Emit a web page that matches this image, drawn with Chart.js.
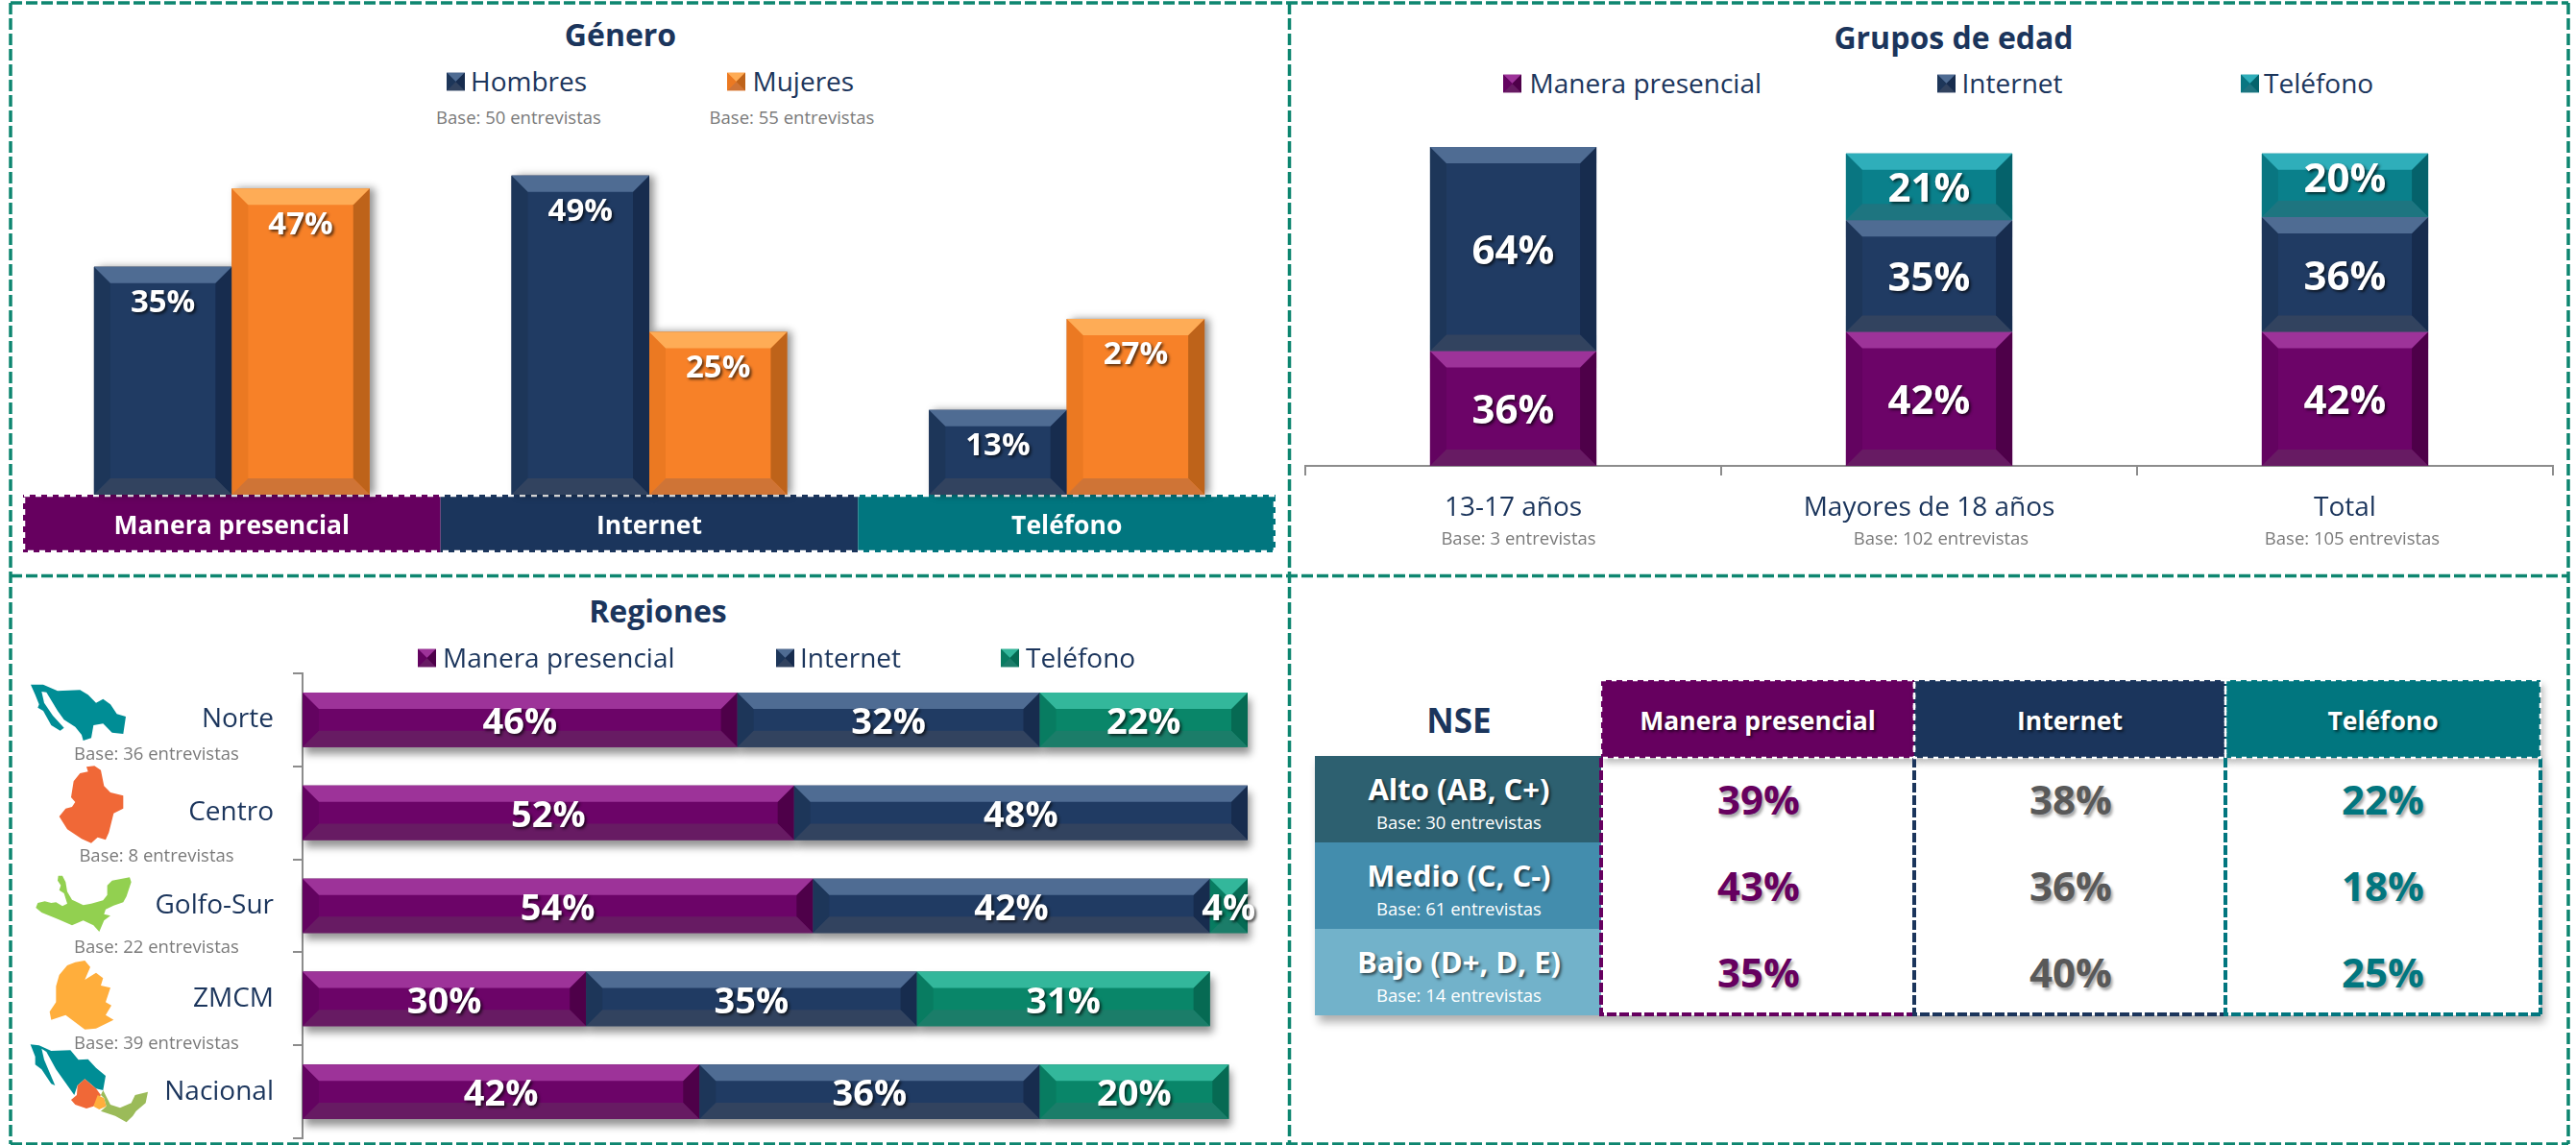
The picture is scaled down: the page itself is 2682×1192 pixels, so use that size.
<!DOCTYPE html>
<html lang="es">
<head>
<meta charset="utf-8">
<title>Encuesta</title>
<script src="https://cdn.jsdelivr.net/npm/chart.js@4"></script>
<style>
html,body{margin:0;padding:0;background:#fff;overflow:hidden}
#page{position:relative;width:2682px;height:1192px;font-family:"Open Sans",sans-serif;color:#1B355C}
canvas{position:absolute}
.t{position:absolute;white-space:nowrap;transform:translate(-50%,-50%);line-height:1}
.l{position:absolute;white-space:nowrap;transform:translateY(-50%);line-height:1}
.title{font-weight:700;font-size:32px}
.base{color:#7a7a7a;font-size:18.5px}
.legend{font-size:28px;color:#1B355C}
.sw{position:absolute;width:19px;height:19px;transform:translateY(-50%)}
.box{position:absolute;box-sizing:border-box}
#frame,#maps{position:absolute;left:0;top:0}
</style>
</head>
<body>
<div id="page">
<svg id="frame" width="2682" height="1192"></svg>
<svg id="maps" width="2682" height="1192"></svg>
<canvas id="genero"></canvas>
<canvas id="edad"></canvas>
<canvas id="regiones"></canvas>
</div>
<script>
// ---- data ----
const canales = ['Manera presencial', 'Internet', 'Teléfono'];

const generoSeries = ['Hombres', 'Mujeres'];
const generoBases = ['Base: 50 entrevistas', 'Base: 55 entrevistas'];
const generoHombres = [35, 49, 13];
const generoMujeres = [47, 25, 27];

const edadCats = ['13-17 años', 'Mayores de 18 años', 'Total'];
const edadBases = ['Base: 3 entrevistas', 'Base: 102 entrevistas', 'Base: 105 entrevistas'];
const edadPresencial = [36, 42, 42];
const edadInternet = [64, 35, 36];
const edadTelefono = [null, 21, 20];

const regionCats = ['Norte', 'Centro', 'Golfo-Sur', 'ZMCM', 'Nacional'];
const regionBases = ['Base: 36 entrevistas', 'Base: 8 entrevistas', 'Base: 22 entrevistas', 'Base: 39 entrevistas'];
const regionPresencial = [46, 52, 54, 30, 42];
const regionInternet = [32, 48, 42, 35, 36];
const regionTelefono = [22, null, 4, 31, 20];

const nseCats = ['Alto (AB, C+)', 'Medio (C, C-)', 'Bajo (D+, D, E)'];
const nseBases = ['Base: 30 entrevistas', 'Base: 61 entrevistas', 'Base: 14 entrevistas'];
const nsePresencial = ['39%', '43%', '35%'];
const nseInternet = ['38%', '36%', '40%'];
const nseTelefono = ['22%', '18%', '25%'];

// ---- palettes: centre, top, left, right, bottom ----
const NAVY   = {c:'#203B63', t:'#4F6C93', l:'#1D3659', r:'#172C4E', b:'#32435F'};
const ORANGE = {c:'#F78128', t:'#FEAC56', l:'#EB7922', r:'#BE631A', b:'#CF7436'};
const PURPLE = {c:'#6C0468', t:'#9D3399', l:'#630360', r:'#4E0049', b:'#671B63'};
const CYAN   = {c:'#0A808B', t:'#2FAEBA', l:'#097681', r:'#05626B', b:'#1E7580'};
const GREEN  = {c:'#098669', t:'#33B79B', l:'#087C61', r:'#066A53', b:'#1B7D69'};

const page = document.getElementById('page');
const INK = '#1B355C';
const SANS = '"Open Sans", sans-serif';

function addText(cls, x, y, text, css) {
  const d = document.createElement('div');
  d.className = cls; d.textContent = text;
  d.style.left = x + 'px'; d.style.top = y + 'px';
  if (css) Object.assign(d.style, css);
  page.appendChild(d);
  return d;
}
function addSwatch(x, y, p) {
  const s = document.createElementNS('http://www.w3.org/2000/svg', 'svg');
  s.setAttribute('viewBox', '0 0 20 20');
  s.setAttribute('class', 'sw');
  s.style.left = x + 'px'; s.style.top = y + 'px';
  s.innerHTML = `<rect width="20" height="20" fill="${p.c}"/>`
    + `<polygon points="0,0 20,0 10,10" fill="${p.t}"/>`
    + `<polygon points="0,20 20,20 10,10" fill="${p.b}"/>`
    + `<polygon points="0,0 10,10 0,20" fill="${p.l}"/>`
    + `<polygon points="20,0 10,10 20,20" fill="${p.r}"/>`;
  page.appendChild(s);
}

// ---- plugin: bevelled faces, drop shadow, value labels ----
const BEVEL = 17;
function rectOf(el, horizontal) {
  const p = el.getProps(['x', 'y', 'base', 'width', 'height'], true);
  return horizontal
    ? {x0: Math.min(p.base, p.x), x1: Math.max(p.base, p.x), y0: p.y - p.height / 2, y1: p.y + p.height / 2}
    : {x0: p.x - p.width / 2, x1: p.x + p.width / 2, y0: Math.min(p.base, p.y), y1: Math.max(p.base, p.y)};
}
function poly(ctx, color, pts) {
  ctx.fillStyle = color;
  ctx.beginPath();
  pts.forEach((q, i) => i ? ctx.lineTo(q[0], q[1]) : ctx.moveTo(q[0], q[1]));
  ctx.closePath();
  ctx.fill();
}
const bevelPlugin = {
  id: 'bevel',
  beforeDatasetsDraw(chart, args, opts) {
    if (!opts.shadow) return;
    const ctx = chart.ctx;
    const horizontal = chart.options.indexAxis === 'y';
    ctx.save();
    ctx.shadowColor = 'rgba(0,0,0,.42)';
    ctx.shadowBlur = opts.shadow.blur;
    ctx.shadowOffsetX = opts.shadow.x;
    ctx.shadowOffsetY = opts.shadow.y;
    ctx.fillStyle = '#888';
    chart.data.datasets.forEach((ds, i) => {
      chart.getDatasetMeta(i).data.forEach((el, j) => {
        if (ds.data[j] == null) return;
        const r = rectOf(el, horizontal);
        ctx.fillRect(r.x0, r.y0, r.x1 - r.x0, r.y1 - r.y0);
      });
    });
    ctx.restore();
  },
  afterDatasetsDraw(chart, args, opts) {
    const ctx = chart.ctx;
    const horizontal = chart.options.indexAxis === 'y';
    chart.data.datasets.forEach((ds, i) => {
      const p = ds.palette;
      chart.getDatasetMeta(i).data.forEach((el, j) => {
        if (ds.data[j] == null) return;
        const r = rectOf(el, horizontal);
        const b = Math.min(BEVEL, (r.x1 - r.x0) / 2, (r.y1 - r.y0) / 2);
        const tl = [r.x0, r.y0], tr = [r.x1, r.y0], br = [r.x1, r.y1], bl = [r.x0, r.y1];
        const itl = [r.x0 + b, r.y0 + b], itr = [r.x1 - b, r.y0 + b], ibr = [r.x1 - b, r.y1 - b], ibl = [r.x0 + b, r.y1 - b];
        poly(ctx, p.l, [tl, itl, ibl, bl]);
        poly(ctx, p.r, [tr, itr, ibr, br]);
        poly(ctx, p.t, [tl, tr, itr, itl]);
        poly(ctx, p.b, [bl, br, ibr, ibl]);
      });
    });
    // value labels
    ctx.save();
    ctx.font = `700 ${opts.labelSize}px ${SANS}`;
    ctx.textAlign = 'center';
    ctx.textBaseline = 'middle';
    ctx.fillStyle = '#fff';
    ctx.shadowColor = 'rgba(0,0,0,.65)';
    ctx.shadowBlur = 3;
    ctx.shadowOffsetX = 2;
    ctx.shadowOffsetY = 2;
    chart.data.datasets.forEach((ds, i) => {
      chart.getDatasetMeta(i).data.forEach((el, j) => {
        if (ds.data[j] == null) return;
        const r = rectOf(el, horizontal);
        let x = (r.x0 + r.x1) / 2, y = (r.y0 + r.y1) / 2;
        if (opts.labelFromTop != null) y = r.y0 + opts.labelFromTop;
        if (opts.labelDy) y += opts.labelDy;
        const raised = opts.raise && opts.raise[i] && opts.raise[i][j];
        if (raised) y -= raised;
        ctx.fillText(ds.data[j] + '%', x, y);
      });
    });
    ctx.restore();
  }
};

// ---- plugin: coloured strip behind the category ticks of Género ----
const stripColors = ['#66005F', '#1B355C', '#01767F'];
const stripPlugin = {
  id: 'strip',
  beforeDraw(chart, args, opts) {
    if (!opts.on) return;
    const ctx = chart.ctx, xs = chart.scales.x, a = chart.chartArea;
    const band = (a.right - a.left) / xs.ticks.length;
    const top = a.bottom, h = opts.height;
    ctx.save();
    xs.ticks.forEach((t, i) => {
      ctx.fillStyle = stripColors[i];
      ctx.fillRect(a.left + band * i, top, band, h);
    });
    ctx.strokeStyle = '#fff';
    ctx.lineWidth = 2.5;
    ctx.setLineDash([6, 6]);
    ctx.strokeRect(a.left + 1, top + 1, a.right - a.left - 2, h - 2);
    ctx.restore();
  }
};

Chart.register(bevelPlugin, stripPlugin);
Chart.defaults.font.family = SANS;
Chart.defaults.animation = false;
Chart.defaults.responsive = false;
Chart.defaults.maintainAspectRatio = false;

function place(id, x, y, w, h) {
  const c = document.getElementById(id);
  c.width = w; c.height = h;
  c.style.left = x + 'px'; c.style.top = y + 'px';
  c.style.width = w + 'px'; c.style.height = h + 'px';
  return c;
}
function dataset(label, data, p) {
  return {label, data, palette: p, backgroundColor: p.c, borderWidth: 0};
}

// ---- Género ----
new Chart(place('genero', 24, 142, 1304, 433), {
  type: 'bar',
  data: {
    labels: canales,
    datasets: [dataset(generoSeries[0], generoHombres, NAVY), dataset(generoSeries[1], generoMujeres, ORANGE)]
  },
  options: {
    layout: {padding: 0},
    datasets: {bar: {categoryPercentage: 0.66, barPercentage: 1}},
    plugins: {
      legend: {display: false}, tooltip: {enabled: false}, title: {display: false},
      bevel: {labelSize: 33, labelFromTop: 38, shadow: {blur: 8, x: 5, y: 0}},
      strip: {on: true, height: 60}
    },
    scales: {
      x: {
        afterFit(s) { s.height = 60; },
        border: {display: false},
        grid: {display: false, drawTicks: false},
        ticks: {color: '#fff', padding: 18, maxRotation: 0, font: {size: 26.5, weight: 700}}
      },
      y: {display: false, min: 0, max: 55}
    }
  }
});

// ---- Grupos de edad ----
new Chart(place('edad', 1357, 153, 1303, 394), {
  type: 'bar',
  data: {
    labels: edadCats,
    datasets: [dataset(canales[0], edadPresencial, PURPLE), dataset(canales[1], edadInternet, NAVY), dataset(canales[2], edadTelefono, CYAN)]
  },
  options: {
    layout: {padding: {left: 2, right: 2}},
    datasets: {bar: {categoryPercentage: 0.4, barPercentage: 1}},
    plugins: {
      legend: {display: false}, tooltip: {enabled: false}, title: {display: false},
      bevel: {labelSize: 42, labelDy: 4, raise: {2: {2: 9}}},
      strip: {on: false}
    },
    scales: {
      x: {
        stacked: true,
        afterFit(s) { s.height = 62; },
        border: {display: true, color: '#8c8c8c', width: 2},
        grid: {offset: true, drawOnChartArea: false, drawTicks: true, tickLength: 10, color: '#8c8c8c', lineWidth: 2},
        ticks: {color: INK, padding: 17, maxRotation: 0, font: {size: 28}}
      },
      y: {display: false, stacked: true, min: 0, max: 100}
    }
  }
});

// ---- Regiones ----
new Chart(place('regiones', 20, 699, 1296, 488), {
  type: 'bar',
  data: {
    labels: regionCats,
    datasets: [dataset(canales[0], regionPresencial, PURPLE), dataset(canales[1], regionInternet, NAVY), dataset(canales[2], regionTelefono, GREEN)]
  },
  options: {
    indexAxis: 'y',
    layout: {padding: {top: 2, bottom: 2, right: 17}},
    datasets: {bar: {categoryPercentage: 0.586, barPercentage: 1}},
    plugins: {
      legend: {display: false}, tooltip: {enabled: false}, title: {display: false},
      bevel: {labelSize: 38, labelDy: 4, shadow: {blur: 8, x: 3, y: 7}},
      strip: {on: false}
    },
    scales: {
      x: {display: false, stacked: true, min: 0, max: 100},
      y: {
        stacked: true,
        afterFit(s) { s.width = 295; s.paddingTop = 0; s.paddingBottom = 0; },
        border: {display: true, color: '#8c8c8c', width: 2},
        grid: {offset: true, drawOnChartArea: false, drawTicks: true, tickLength: 10, color: '#8c8c8c', lineWidth: 2},
        ticks: {color: INK, padding: 20, font: {size: 28}}
      }
    }
  }
});

// ---- titles, legends and base notes ----
addText('t title', 646, 36, 'Género');
addSwatch(464.5, 85, NAVY);
addText('l legend', 490, 84, generoSeries[0]);
addSwatch(757, 85, ORANGE);
addText('l legend', 783.5, 84, generoSeries[1]);
addText('t base', 540, 122, generoBases[0]);
addText('t base', 824.5, 122, generoBases[1]);

addText('t title', 2034, 39, 'Grupos de edad');
[[1565, 1592.5], [2017, 2042.5], [2332.5, 2357]].forEach((p, i) => {
  addSwatch(p[0], 87, [PURPLE, NAVY, CYAN][i]);
  addText('l legend', p[1], 86, canales[i]);
});
[1581, 2021, 2449].forEach((x, i) => addText('t base', x, 560, edadBases[i]));

addText('t title', 685, 636, 'Regiones');
[[435, 461], [807.5, 833], [1042, 1068]].forEach((p, i) => {
  addSwatch(p[0], 685, [PURPLE, NAVY, GREEN][i]);
  addText('l legend', p[1], 684, canales[i]);
});
[[163, 784], [163, 890], [163, 985], [163, 1085]].forEach((p, i) => addText('t base', p[0], p[1], regionBases[i]));

// ---- NSE table ----
const colX = [1667, 1993, 2317, 2645];
const rowY = [787, 877, 967, 1057];
const rowColors = ['#2D6070', '#438DAD', '#72B2CA'];
const headColors = ['#66005F', '#1B355C', '#01767F'];
const cellColors = ['#66005F', '#595959', '#01767F'];
const dashColors = ['#66005F', '#1B355C', '#01767F'];
const nseCols = [nsePresencial, nseInternet, nseTelefono];

addText('t', 1519, 749, 'NSE', {fontWeight: 700, fontSize: '35px'});

const shadowBox = document.createElement('div');
shadowBox.className = 'box';
Object.assign(shadowBox.style, {left: '1369px', top: '787px', width: '1276px', height: '270px', boxShadow: '4px 7px 9px rgba(0,0,0,.32)', background: '#fff'});
page.appendChild(shadowBox);

nseCats.forEach((cat, i) => {
  const r = document.createElement('div');
  r.className = 'box';
  Object.assign(r.style, {left: '1369px', top: rowY[i] + 'px', width: '298px', height: (rowY[i + 1] - rowY[i]) + 'px', background: rowColors[i]});
  page.appendChild(r);
  addText('t', 1519, rowY[i] + 34, cat, {color: '#fff', fontWeight: 700, fontSize: '31px', textShadow: '2px 2px 3px rgba(0,0,0,.6)'});
  addText('t base', 1519, rowY[i] + 69, nseBases[i], {color: '#fff'});
});

canales.forEach((name, c) => {
  const h = document.createElement('div');
  h.className = 'box';
  Object.assign(h.style, {left: colX[c] + 'px', top: '708px', width: (colX[c + 1] - colX[c]) + 'px', height: '81px', background: headColors[c], boxShadow: '3px 5px 7px rgba(0,0,0,.28)'});
  page.appendChild(h);
});
canales.forEach((name, c) => {
  const cell = document.createElementNS('http://www.w3.org/2000/svg', 'svg');
  cell.setAttribute('width', colX[c + 1] - colX[c] + 4);
  cell.setAttribute('height', 362);
  cell.style.position = 'absolute';
  cell.style.left = colX[c] - 2 + 'px';
  cell.style.top = '706px';
  const w = colX[c + 1] - colX[c];
  cell.innerHTML =
    `<path d="M2,83 V350 H${w + 2}" fill="none" stroke="${dashColors[c]}" stroke-width="4" stroke-dasharray="10 3"/>`
    + (c === 2 ? `<path d="M${w + 2},83 V350" fill="none" stroke="${dashColors[c]}" stroke-width="4" stroke-dasharray="10 3"/>` : '')
    + `<rect x="2" y="2" width="${w}" height="81" fill="none" stroke="#fff" stroke-width="2.5" stroke-dasharray="5 6"/>`;
  page.appendChild(cell);
  addText('t', (colX[c] + colX[c + 1]) / 2, 750, name, {color: '#fff', fontWeight: 700, fontSize: '26.5px', textShadow: '2px 2px 3px rgba(0,0,0,.55)'});
  nseCols[c].forEach((v, r) => {
    addText('t', [1831, 2156, 2481][c], 832 + 90 * r, v, {color: cellColors[c], fontWeight: 700, fontSize: '42px', textShadow: '2px 3px 3px rgba(0,0,0,.35)'});
  });
});

// ---- panel frames ----
document.getElementById('frame').innerHTML =
  ['M11,3 H2674', 'M11,599.5 H2674', 'M11,1191 H2674', 'M11,3 V1191', 'M1342.5,3 V1191', 'M2674,3 V1191']
    .map(d => `<path d="${d}" fill="none" stroke="#0E8670" stroke-width="3.5" stroke-dasharray="12 4"/>`).join('');

// ---- region silhouettes (decoration) ----
const mapNorte = '36,68 75,68 120,88 190,85 215,100 240,125 262,113 285,130 305,160 333,168 325,222 290,218 262,190 232,195 225,235 200,243 195,225 175,200 140,178 120,150 85,92 70,90 78,125 105,165 140,203 128,212 100,195 75,150 58,140 62,130 50,100';
const mapCentro = '210,325 235,322 255,335 265,385 285,405 325,415 325,455 295,470 280,530 270,553 245,545 225,563 195,550 150,520 125,480 145,455 165,450 175,435 162,420 170,370 190,345 215,340';
const mapGolfo = '122,35 135,35 145,55 150,85 165,110 175,115 200,127 225,122 262,112 275,95 275,65 290,50 345,40 350,55 335,100 325,118 295,128 270,140 265,155 285,160 265,175 250,210 232,190 200,175 165,190 120,170 70,150 52,135 58,120 80,115 100,120 115,118 135,130 150,122 140,90 125,80 130,65 120,50';
const mapZmcm = '175,185 205,180 222,200 205,240 240,218 262,235 255,258 285,265 270,310 288,320 270,350 295,365 240,392 205,395 165,365 145,350 100,365 95,340 115,310 115,260 125,225 150,195';
const natTeal = '35,442 62,445 100,462 160,460 185,490 215,488 240,515 270,540 262,585 240,580 205,550 182,570 172,600 140,555 115,520 85,465 70,455 78,490 112,570 100,565 70,520 50,505 50,480';
const natOrange = '205,550 240,580 255,600 232,635 210,642 175,630 162,615 180,600 182,570';
const natYellow = '245,600 265,610 272,635 250,645 232,635';
const natGreen = '262,585 285,630 315,640 350,625 362,600 402,590 395,625 365,650 355,665 335,685 300,665 255,650 272,635 265,610 255,600';
document.getElementById('maps').innerHTML =
  `<g transform="translate(20,690) scale(.3333)"><polygon points="${mapNorte}" fill="#008D95"/><polygon points="${mapCentro}" fill="#F06837"/></g>`
  + `<g transform="translate(20,900) scale(.3333)"><polygon points="${mapGolfo}" fill="#92D050"/></g>`
  + `<g transform="translate(20,940) scale(.3333)"><polygon points="${mapZmcm}" fill="#FFAE3C"/>`
  + `<polygon points="${natTeal}" fill="#008D95"/><polygon points="${natGreen}" fill="#9BBB59"/><polygon points="${natOrange}" fill="#F06837"/><polygon points="${natYellow}" fill="#FFAE3C"/></g>`;
</script>
</body>
</html>
